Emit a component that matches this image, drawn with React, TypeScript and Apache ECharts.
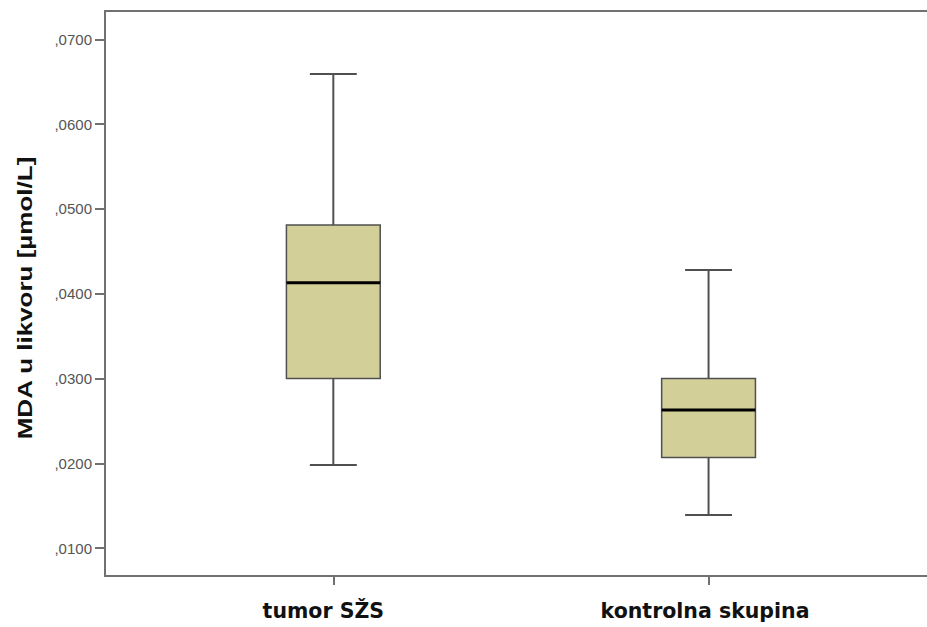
import React, { useEffect, useRef } from "react";
import * as echarts from "echarts";

const categories = ["tumor SŽS", "kontrolna skupina"];
const whiskerLow = [0.0198, 0.0139];
const quartile1 = [0.03, 0.0207];
const medians = [0.0413, 0.0263];
const quartile3 = [0.0481, 0.03];
const whiskerHigh = [0.0659, 0.0428];
const yTicks = [0.01, 0.02, 0.03, 0.04, 0.05, 0.06, 0.07];
const yTitle = "MDA u likvoru [µmol/L]";

export default function App() {
  const ref = useRef<HTMLDivElement>(null);
  useEffect(() => {
    if (!ref.current) return;
    document.body.style.overflow = "hidden";
    const chart = echarts.init(ref.current, null, { renderer: "svg" });
    const data = categories.map((_, i) => [
      i,
      whiskerLow[i],
      quartile1[i],
      medians[i],
      quartile3[i],
      whiskerHigh[i],
    ]);
    const axisColor = "#717171";
    const lineColor = "#505050";
    const axisLineStyle = { color: axisColor, width: 2 };
    const labelFont = {
      fontFamily: "DejaVu Sans",
      fontWeight: "bold",
      fontSize: 20.5,
      color: "#111111",
    };
    chart.setOption({
      animation: false,
      backgroundColor: "#ffffff",
      grid: { left: 105, right: 13, top: 11, bottom: 51, show: false },
      xAxis: [
        {
          type: "value",
          position: "bottom",
          min: -0.6085,
          max: 1.6355,
          axisLine: { show: true, onZero: false, lineStyle: axisLineStyle },
          splitLine: { show: false },
          axisTick: {
            show: true,
            customValues: [0, 1],
            length: 9,
            lineStyle: axisLineStyle,
          },
          axisLabel: {
            customValues: [0, 1],
            formatter: (v: number) =>
              Math.round(v) === 0 ? `{a|${categories[0]}}` : `{b|${categories[1]}}`,
            margin: 24,
            ...labelFont,
            rich: {
              a: { ...labelFont, padding: [0, 20, 0, 0] },
              b: { ...labelFont, padding: [0, 7, 0, 0] },
            },
          },
        },
        {
          type: "value",
          position: "top",
          min: -0.6085,
          max: 1.6355,
          axisLine: { show: true, onZero: false, lineStyle: axisLineStyle },
          splitLine: { show: false },
          axisTick: { show: false },
          axisLabel: { show: false },
        },
      ],
      yAxis: {
        type: "value",
        min: 0.00672,
        max: 0.07334,
        axisLine: { show: true, onZero: false, lineStyle: axisLineStyle },
        splitLine: { show: false },
        axisTick: {
          show: true,
          customValues: yTicks,
          length: 10,
          lineStyle: axisLineStyle,
        },
        axisLabel: {
          customValues: yTicks,
          formatter: (v: number) => v.toFixed(4).replace(/^0\./, ","),
          margin: 13,
          fontFamily: "Liberation Sans",
          fontSize: 15,
          color: "#555555",
        },
      },
      graphic: [
        {
          type: "text",
          x: 25,
          y: 298,
          rotation: Math.PI / 2,
          scaleX: 1.3,
          style: {
            text: yTitle,
            fontFamily: "Liberation Sans",
            fontWeight: "bold",
            fontSize: 20,
            fill: "#111111",
            align: "center",
            verticalAlign: "middle",
          },
        },
      ],
      series: [
        {
          type: "custom",
          xAxisIndex: 0,
          data,
          renderItem: (params: any, api: any) => {
            const x = api.value(0);
            const lo = api.coord([x, api.value(1)]);
            const q1 = api.coord([x, api.value(2)]);
            const med = api.coord([x, api.value(3)]);
            const q3 = api.coord([x, api.value(4)]);
            const hi = api.coord([x, api.value(5)]);
            const cx = lo[0];
            const bw = api.size([0.25, 0])[0];
            const cw = bw / 2;
            const ls = { stroke: lineColor, lineWidth: 2 };
            return {
              type: "group",
              children: [
                { type: "line", shape: { x1: cx, y1: hi[1], x2: cx, y2: q3[1] }, style: ls },
                { type: "line", shape: { x1: cx, y1: q1[1], x2: cx, y2: lo[1] }, style: ls },
                { type: "line", shape: { x1: cx - cw / 2, y1: hi[1], x2: cx + cw / 2, y2: hi[1] }, style: ls },
                { type: "line", shape: { x1: cx - cw / 2, y1: lo[1], x2: cx + cw / 2, y2: lo[1] }, style: ls },
                {
                  type: "rect",
                  shape: { x: cx - bw / 2, y: q3[1], width: bw, height: q1[1] - q3[1] },
                  style: { fill: "#d3cf98", stroke: lineColor, lineWidth: 1.5 },
                },
                {
                  type: "line",
                  shape: { x1: cx - bw / 2, y1: med[1], x2: cx + bw / 2, y2: med[1] },
                  style: { stroke: "#000000", lineWidth: 3 },
                },
              ],
            };
          },
        },
      ],
    });
    return () => chart.dispose();
  }, []);
  return (
    <div
      ref={ref}
      style={{ position: "fixed", left: 0, top: 0, width: 960, height: 627 }}
    />
  );
}
